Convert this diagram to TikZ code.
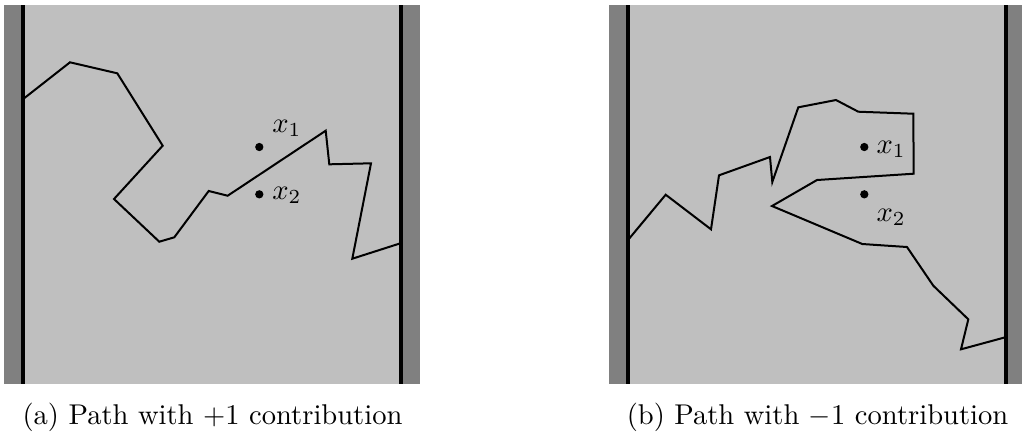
\documentclass[tikz,border=0pt]{standalone}
\usepackage{tikz}

\tikzset{
    wall/.style={line width=1.4pt},
    walk/.style={black, line width=0.7pt, line join=miter},
    pt/.style={circle, fill=black, inner sep=0pt, minimum size=2.9pt},
    lbl/.style={inner sep=0pt, anchor=base west}
}

\begin{document}
\begin{tikzpicture}[x=0.35pt, y=-0.35pt]
    \useasboundingbox (0,0) rectangle (1022,433);
    % panel (a)
    \fill[black!25] (4,5) rectangle (420,384);
    \fill[black!50] (4,5) rectangle (23.2,384);
    \fill[black!50] (401.3,5) rectangle (420,384);
    \draw[wall] (23.2,5) -- (23.2,384);
    \draw[wall] (401.3,5) -- (401.3,384);
    \draw[walk] (23.2,99) -- (70,62.3) -- (117.3,73.3) -- (162.7,145.7)
        -- (114,199) -- (159.3,241.7) -- (174.3,237.3) -- (208.7,191)
        -- (227.7,195.7) -- (325.7,130.7) -- (329.3,164.3) -- (371,163.3)
        -- (352.3,258.7) -- (401.3,243);
    \node[pt] (pa1) at (259.3,147) {};
    \node[pt] (pa2) at (259.3,194.3) {};
    \node[lbl] (la1) at (271.7,132) {$x_1$};
    \node[lbl] (la2) at (271.7,199.3) {$x_2$};
    \node[anchor=base] (capa) at (212.5,424.5) {(a) Path with $+1$ contribution};
    %
    % panel (b)
    \fill[black!25] (609,5) rectangle (1022,384);
    \fill[black!50] (609,5) rectangle (628,384);
    \fill[black!50] (1006.3,5) rectangle (1022,384);
    \draw[wall] (628,5) -- (628,384);
    \draw[wall] (1006.3,5) -- (1006.3,384);
    \draw[walk] (628,240) -- (665.7,194.7) -- (711,229.3) -- (719,175.3)
        -- (770,157) -- (772.3,182) -- (798.3,107.3) -- (836,100)
        -- (858.3,111.7) -- (913.3,113.7) -- (913.7,173.7) -- (817,180)
        -- (772,206) -- (862.3,244) -- (907,247) -- (933.3,285.7)
        -- (968.3,319.3) -- (961,349.3) -- (1006.3,337);
    \node[pt] (pb1) at (864.3,147) {};
    \node[pt] (pb2) at (864.3,194.3) {};
    \node[lbl] (lb1) at (876,153.3) {$x_1$};
    \node[lbl] (lb2) at (876,221) {$x_2$};
    \node[anchor=base] (capb) at (817.5,424.5) {(b) Path with $-1$ contribution};
\end{tikzpicture}
\end{document}
